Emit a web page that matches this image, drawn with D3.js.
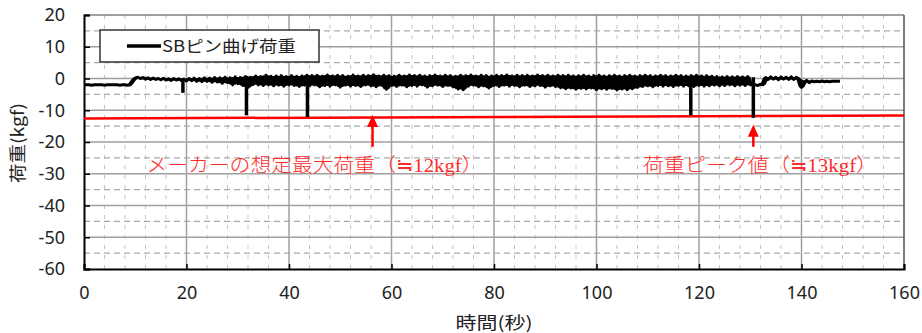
<!DOCTYPE html>
<html><head><meta charset="utf-8">
<script src="https://cdn.jsdelivr.net/npm/d3@7"></script>
<style>
html,body{margin:0;padding:0;background:#fff;}
svg{display:block;}
</style></head>
<body>
<script>
// ---- data ----
const seriesName = "SBピン曲げ荷重";
const sampleInterval = 0.5; // seconds between samples
const loads = [
 -2.0,-2.0,-2.0,-2.1,-2.0,-2.0,-2.0,-2.0,-2.1,-2.0,
 -2.0,-2.0,-2.0,-2.0,-2.1,-2.0,-2.0,-2.1,-2.0,-0.8,
 0.2,0.4,0.0,0.3,-0.2,0.2,-0.3,0.1,-0.3,0.0,
 -0.4,0.1,-0.5,-0.1,-0.6,0.0,-0.5,-0.1,-0.6,-0.2,
 -0.8,0.0,-0.7,0.1,-0.9,0.0,-1.0,0.2,-0.9,0.1,
 -1.2,0.3,-1.1,0.2,-1.5,0.4,-1.3,0.2,-2.0,0.5,
 -1.6,0.3,-2.2,0.6,-2.8,0.4,-1.9,0.8,-2.0,0.6,
 -2.2,1.0,-2.0,0.7,-2.3,0.8,-2.1,0.9,-2.4,0.6,
 -2.0,0.9,-2.2,0.7,-2.5,0.8,-2.1,1.0,-2.3,0.9,
 -2.0,1.0,-2.6,0.7,-2.2,1.1,-2.4,0.8,-2.0,1.0,
 -2.7,0.9,-2.1,0.7,-2.4,1.1,-2.2,0.8,-2.5,1.0,
 -2.0,0.9,-2.3,1.2,-2.6,0.8,-2.1,1.0,-3.4,0.9,
 -2.2,0.7,-2.5,1.0,-2.1,0.8,-2.6,1.1,-2.2,0.9,
 -2.4,1.0,-2.0,0.8,-2.7,0.9,-2.3,1.1,-2.1,0.8,
 -2.5,1.0,-2.2,0.9,-2.6,0.7,-3.3,1.0,-3.5,0.9,
 -2.4,1.1,-2.1,0.8,-2.6,1.0,-2.3,0.9,-3.0,0.8,
 -2.2,1.0,-2.5,0.9,-2.1,1.1,-2.4,0.8,-2.2,1.0,
 -2.6,0.9,-2.1,1.0,-2.5,0.8,-2.3,1.1,-2.2,0.9,
 -2.7,1.0,-2.3,0.8,-2.5,1.0,-2.9,0.9,-3.2,1.0,
 -3.0,0.8,-3.4,0.9,-3.1,1.0,-3.3,0.8,-3.0,0.9,
 -3.5,1.0,-3.2,0.8,-3.4,0.9,-3.1,1.0,-3.6,0.8,
 -3.3,0.9,-3.5,1.0,-3.2,0.8,-2.8,0.9,-2.5,1.0,
 -2.3,0.9,-2.6,0.8,-2.2,1.0,-2.4,0.9,-2.3,0.8,
 -2.5,1.0,-2.2,0.9,-2.4,0.8,-2.3,0.9,-2.5,1.0,
 -2.2,0.8,-2.4,0.9,-2.3,0.7,-2.1,0.6,-2.3,0.5,
 -2.2,0.6,-2.0,0.5,-2.3,0.6,-2.1,0.5,-2.2,0.6,
 -2.0,-1.9,-2.0,-2.2,-1.8,-2.0,0.3,-0.3,0.5,-0.2,
 0.4,-0.4,0.5,-0.2,0.4,-0.3,0.5,-0.3,0.4,-0.2,
 -2.8,-1.2,-0.6,-1.3,-0.8,-1.0,-0.9,-1.0,-0.8,-1.0,
 -0.9,-1.0,-0.9,-0.9,-0.9,-0.9
];
// short downward spikes (time, lowest load)
const spikeTimes = [19.3, 31.7, 43.6, 118.4, 130.6];
const spikeTops  = [0.0, 0.8, 1.0, 0.9, 0.4];
const spikeMins  = [-4.5, -11.6, -12.1, -11.6, -12.4];
// maker's assumed maximum load line
const limitTimes = [0, 160];
const limitLoads = [-12.6, -11.65];
// annotations
const annoTexts = ["メーカーの想定最大荷重（≒12kgf）", "荷重ピーク値（≒13kgf）"];
const annoTimes = [12.2, 109.1];
const annoLoads = [-27.3, -27.3];
const arrowTimes = [56.3, 130.6];
const arrowTips  = [-11.5, -14.6];
const arrowTails = [-21.5, -21.5];
const xTicks = [0,20,40,60,80,100,120,140,160];
const yTicks = [20,10,0,-10,-20,-30,-40,-50,-60];
const xTitle = "時間(秒)";
const yTitle = "荷重(kgf)";

// ---- chart ----
const W = 922, H = 333;
const L = 84, R = 904, T = 15, B = 269;
const x = d3.scaleLinear().domain([0,160]).range([L,R]);
const y = d3.scaleLinear().domain([-60,20]).range([B,T]);
const svg = d3.select("body").append("svg").attr("width",W).attr("height",H);

const jp = "'Noto Sans CJK JP','Noto Sans',sans-serif";
const jpSerif = "'Liberation Serif','Noto Sans CJK JP',serif";
const grid = svg.append("g");
const minorX = d3.range(4,160,4).filter(v => v % 20 !== 0);
grid.selectAll("line.mx").data(minorX).join("line")
  .attr("x1",d=>x(d)).attr("x2",d=>x(d)).attr("y1",T).attr("y2",B)
  .attr("stroke","#c4c4c4").attr("stroke-width",1).attr("stroke-dasharray","4,6");
const minorY = d3.range(-55,20,10);
grid.selectAll("line.my").data(minorY).join("line")
  .attr("x1",L).attr("x2",R).attr("y1",d=>y(d)).attr("y2",d=>y(d))
  .attr("stroke","#a9a9a9").attr("stroke-width",1.2).attr("stroke-dasharray","6,4");
grid.selectAll("line.gy").data(yTicks.filter(v=>v!==-60 && v!==20)).join("line")
  .attr("x1",L).attr("x2",R).attr("y1",d=>y(d)).attr("y2",d=>y(d))
  .attr("stroke","#a0a0a0").attr("stroke-width",1.5);
grid.selectAll("line.gx").data(xTicks.filter(v=>v!==0 && v!==160)).join("line")
  .attr("x1",d=>x(d)).attr("x2",d=>x(d)).attr("y1",T).attr("y2",B)
  .attr("stroke","#a0a0a0").attr("stroke-width",1.5);
svg.append("line").attr("x1",L).attr("x2",R).attr("y1",T).attr("y2",T).attr("stroke","#808080").attr("stroke-width",1.5);
svg.append("line").attr("x1",R).attr("x2",R).attr("y1",T).attr("y2",B).attr("stroke","#505050").attr("stroke-width",1.5);

const xAxis = d3.axisBottom(x).tickValues(xTicks).tickSize(-5).tickPadding(17).tickFormat(d3.format("d"));
const gx = svg.append("g").attr("transform",`translate(0,${B})`).call(xAxis);
const yAxis = d3.axisLeft(y).tickValues(yTicks).tickSize(-6).tickPadding(19).tickFormat(d3.format("d"));
const gy = svg.append("g").attr("transform",`translate(${L},0)`).call(yAxis);
[gx,gy].forEach(g=>{
  g.select(".domain").attr("stroke","#000").attr("stroke-width",2);
  g.selectAll(".tick line").attr("stroke","#000").attr("stroke-width",1.5);
  g.selectAll(".tick text").attr("font-family","'Noto Sans',sans-serif").attr("font-size",18).attr("fill","#222");
});
gy.selectAll(".tick text").text(d=>d<0?"-"+Math.abs(d):d);

const line = d3.line().x(d=>x(d[0])).y(d=>y(d[1]));
svg.append("path").datum(limitTimes.map((t,i)=>[t,limitLoads[i]]))
  .attr("d",line).attr("fill","none").attr("stroke","#ff0000").attr("stroke-width",2.5);

// series: dense signal drawn as min/max envelope of neighbouring samples plus the trace itself
const pts = loads.map((v,i)=>{
  const nb = loads.slice(Math.max(0,i-1), i+2);
  return {t:i*sampleInterval, v, lo:d3.min(nb), hi:d3.max(nb)};
});
const env = d3.area().x(d=>x(d.t)).y0(d=>y(d.lo)).y1(d=>y(d.hi));
svg.append("path").datum(pts).attr("d",env).attr("fill","#000");
svg.append("path").datum(pts).attr("d",d3.line().x(d=>x(d.t)).y(d=>y(d.v))).attr("fill","none")
  .attr("stroke","#000").attr("stroke-width",3).attr("stroke-linejoin","round");
svg.selectAll("line.spike").data(spikeTimes).join("line")
  .attr("x1",d=>x(d)).attr("x2",d=>x(d))
  .attr("y1",(d,i)=>y(spikeTops[i])).attr("y2",(d,i)=>y(spikeMins[i]))
  .attr("stroke","#000").attr("stroke-width",3.5);

arrowTimes.forEach((t,i)=>{
  const ax = x(t), tip = y(arrowTips[i]), tail = y(arrowTails[i]);
  svg.append("line").attr("x1",ax).attr("x2",ax).attr("y1",tip+10).attr("y2",tail)
    .attr("stroke","#ff0000").attr("stroke-width",2.5);
  svg.append("path").attr("d",`M${ax},${tip} L${ax-5.5},${tip+12} L${ax+5.5},${tip+12} Z`).attr("fill","#ff0000");
});
const annoW = [336, 234];
annoTexts.forEach((s,i)=>{
  svg.append("text").attr("x",x(annoTimes[i])).attr("y",y(annoLoads[i])).attr("dy","0.35em")
    .attr("font-family",jpSerif).attr("font-size",19).attr("font-weight",300).attr("fill","#ff2a2a")
    .attr("textLength",annoW[i]).attr("lengthAdjust","spacingAndGlyphs").text(s);
});

const lg = svg.append("g");
lg.append("rect").attr("x",100).attr("y",30).attr("width",219).attr("height",32)
  .attr("fill","#fff").attr("stroke","#333").attr("stroke-width",1.5);
lg.append("line").attr("x1",127).attr("x2",161).attr("y1",46).attr("y2",46).attr("stroke","#000").attr("stroke-width",3.5);
lg.append("text").attr("x",162).attr("y",46).attr("dy","0.35em").attr("font-family",jp).attr("font-size",16)
  .attr("fill","#222").attr("textLength",134).attr("lengthAdjust","spacingAndGlyphs").text(seriesName);

svg.append("text").attr("x",494).attr("y",323).attr("dy","0.35em").attr("text-anchor","middle")
  .attr("font-family",jp).attr("font-size",17).attr("fill","#222")
  .attr("textLength",77).attr("lengthAdjust","spacingAndGlyphs").text(xTitle);
svg.append("text").attr("transform","translate(18,143) rotate(-90)").attr("dy","0.35em").attr("text-anchor","middle")
  .attr("font-family",jp).attr("font-size",17).attr("fill","#222")
  .attr("textLength",80).attr("lengthAdjust","spacingAndGlyphs").text(yTitle);
</script>
</body></html>
